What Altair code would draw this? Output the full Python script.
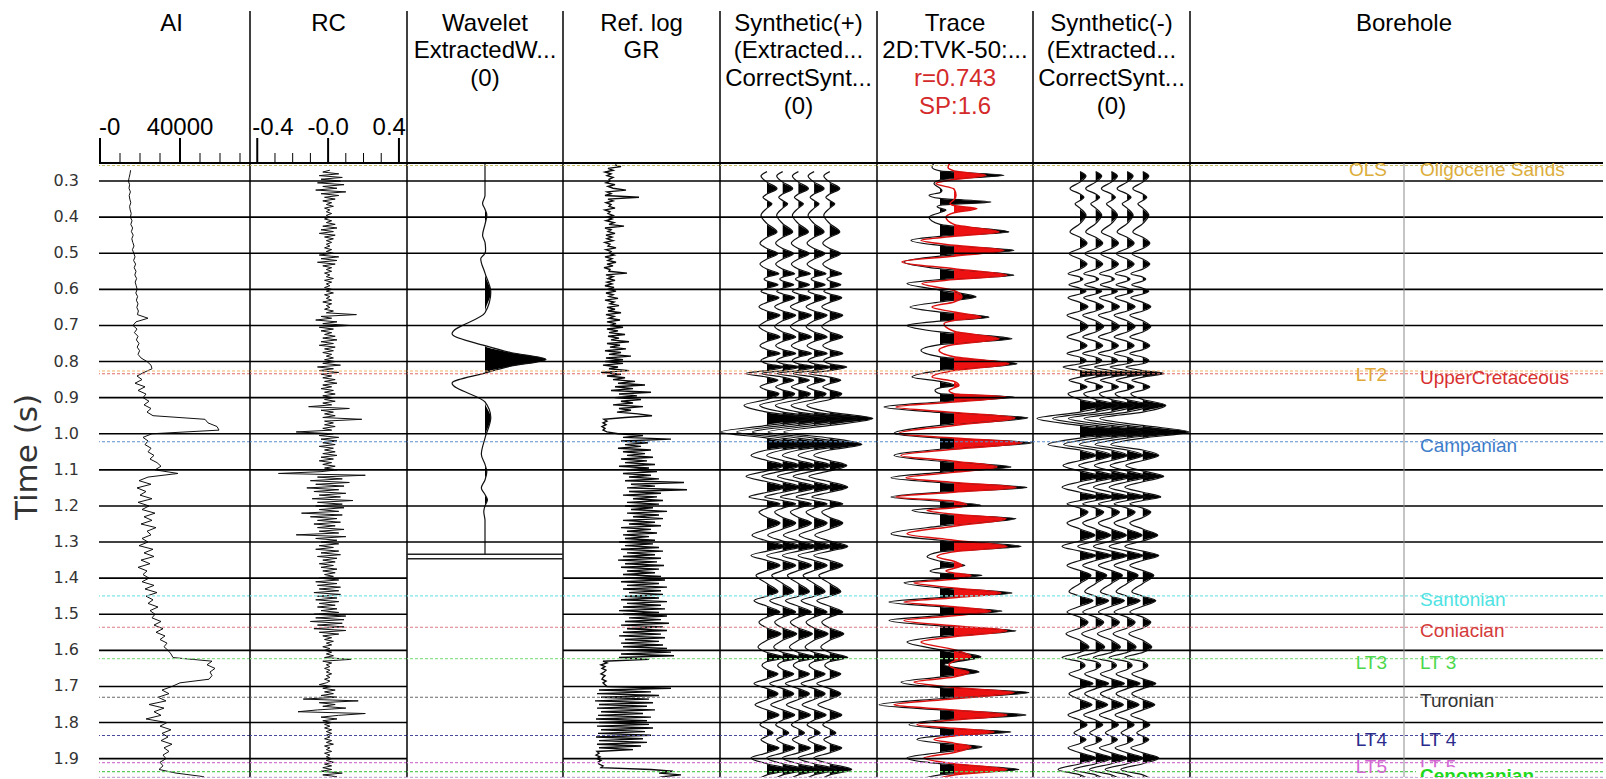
import altair as alt
import pandas as pd

# ------------------------------------------------------------------
# Display window / layout
# ------------------------------------------------------------------
T_TOP = 0.25              # time at the top of the tracks (s)
PX_PER_S = 361.0          # vertical scale, px per second
PLOT_H = 614
T_BOT = T_TOP + PLOT_H / PX_PER_S
HEAD = 152                # header band above the tracks (px)
LINE_H = 27.8             # header line spacing
HFONT = "Liberation Sans"
AFONT = "DejaVu Sans"

W_AI, W_RC, W_WAV, W_REF, W_SYN, W_TRC, W_BH = 151, 157, 156, 157, 157, 156, 413

grid_times = [0.3, 0.4, 0.5, 0.6, 0.7, 0.8, 0.9, 1.0, 1.1, 1.2, 1.3,
              1.4, 1.5, 1.6, 1.7, 1.8, 1.9]

# ------------------------------------------------------------------
# Well logs (regularly sampled)
# ------------------------------------------------------------------
AI_START, AI_STEP = 0.27, 0.01
ai_k = [  # acoustic impedance, thousands
    15.3, 15.0, 14.6,
    14.2, 14.8, 14.5, 15.2, 14.6, 14.9, 15.4, 14.8, 15.1, 15.6,
    15.2, 16.0, 15.4, 16.3, 15.7, 16.6, 15.9, 16.4, 17.0, 16.2,
    16.9, 17.5, 16.8, 17.8, 17.1, 18.0, 17.4, 18.3, 17.6, 18.1,
    18.6, 17.9, 18.8, 18.2, 19.0, 18.4, 19.2, 18.7, 24.0, 18.0,
    16.5, 18.5, 17.2, 19.0, 18.2, 19.5, 18.6, 19.8, 19.0, 20.5,
    23.5, 25.5, 26.0, 22.0, 18.5, 21.0, 17.5, 22.5, 19.0, 23.0,
    21.5, 24.5, 22.0, 25.5, 23.5, 26.5, 52.5, 54.0, 58.5, 59.5,
    26.0, 21.5, 24.0, 22.5, 25.5, 24.0, 27.0, 25.0, 28.5, 30.5,
    27.5, 39.0, 24.0, 19.5, 25.5, 18.5, 23.0, 20.0, 26.0, 19.0,
    24.5, 21.0, 27.5, 22.0, 26.0, 20.5, 28.0, 23.5, 25.5, 21.0,
    24.0, 19.5, 26.5, 22.0, 27.0, 20.5, 25.0, 19.0, 23.5, 21.5,
    24.5, 21.0, 27.0, 22.5, 28.5, 23.0, 26.5, 24.0, 29.0, 25.0,
    27.5, 26.0, 30.5, 27.0, 31.5, 28.0, 32.5, 30.0, 33.5, 32.0,
    34.0, 35.5, 36.5, 56.0, 53.5, 57.5, 55.0, 56.0, 54.5, 40.0,
    36.0, 31.0, 34.5, 29.0, 33.0, 24.5, 32.0, 27.0, 30.5, 23.0,
    33.5, 30.0, 35.5, 31.0, 34.0, 30.5, 36.0, 32.0, 34.5, 31.5,
    33.0, 30.0, 31.5, 29.5, 38.0, 52.0,
]

RC_START, RC_STEP = 0.27, 0.005
rc_c = [  # reflection coefficient, hundredths
    1, -3, 6, -5, 8, -4,
    7, -6, 9, -3, 5, -7, 10, -4, 6, -2, 4, -3, 2, -1, 3, -2, 1, -1, 2, -1,
    1, -2, 2, -1, 4, -3, 5, -4, 3, -5, 4, -2, 3, -1, 2, -1, 1, -2, 2, -1,
    3, -5, 6, -4, 5, -6, 4, -3, 2, -1, 2, -2, 1, -1, 3, -2, 2, -1, 1, -2,
    2, -1, 3, -2, 1, -1, 2, -3, 2, -1, 1, -2, 3, -1, 16, -4, 2, -7, 5, -3,
    12, -5, 3, -4, 2, -2, 4, -3, 5, -4, 3, -5, 4, -2, 3, -3, 2, -1, 3, -2,
    4, -3, 7, -6, 3, -5, 6, -4, 2, -3, 4, -2, 5, -3, 2, -4, 3, -2, 4, -3,
    3, -2, 4, -3, 2, -11, 12, -4, 3, -2, 4, -3, 19, -2, 3, -2, 4, -3, 2, -18,
    3, -5, 6, -4, 5, -3, 4, -5, 3, -2, 4, -3, 5, -4, 3, -5, 2, -3, 4, -2,
    5, -4, -28, 21, -6, 8, -10, 12, -7, 9, -12, 6, -8, 10, -5, 7, -9, 14, -6, 8,
    -7, 9, -5, 6, -15, 8, -10, 5, -6, 7, -8, 4, -6, 9, -5, 6, -18, 10, -7, 5,
    -4, 6, -5, 3, -7, 6, -4, 7, -6, 5, -3, 4, -5, 3, -4, 5, -3, 4, -2, 3,
    -5, 6, -7, 5, -6, 7, -5, 6, -8, 7, -6, 5, -7, 6, -5, 4, -6, 5, -4, 6,
    -8, 10, -7, 9, -10, 8, -6, 9, -8, 10, -5, 6, -3, 2, -2, 3, -1, 2, -3, 1,
    -2, 2, -1, 3, -2, 13, -3, 2, -1, 1, -2, 1, -1, 2, -1, 1, -2, 1, -1, -5,
    2, -3, 4, -2, 3, -4, 5, -14, 17, -5, 4, -3, 10, -6, -17, 21, 6, -4, 5, -3,
    2, -2, 1, -2, 2, -1, 2, -1, 1, -2, 2, -1, 3, -2, 1, -1, 2, -2, 1, -1,
    2, -1, 3, -2, 2, -3, 2, -4, 8, -3, 5, -2,
]

GR_START, GR_STEP = 0.255, 0.005
gr_api = [  # gamma ray
    52, 58, 45, 50, 42, 48, 44, 50, 46,
    47, 43, 52, 45, 50, 63, 44, 48, 42, 76, 45, 50, 43, 48, 46, 52, 42, 47, 45, 50,
    44, 49, 43, 51, 46, 61, 42, 48, 45, 52, 43, 49, 44, 50, 42, 47, 45, 53, 43, 48,
    46, 51, 42, 49, 45, 53, 44, 50, 41, 47, 46, 64, 43, 50, 45, 52, 44, 49, 42, 51,
    45, 53, 43, 50, 46, 55, 42, 51, 47, 56, 44, 52, 45, 58, 43, 51, 46, 57, 44, 53,
    47, 60, 44, 55, 46, 62, 45, 56, 48, 66, 44, 57, 47, 63, 42, 58, 46, 68, 43, 60,
    42, 60, 40, 55, 46, 66, 38, 58, 44, 62, 50, 72, 55, 82, 52, 70, 48, 88, 56, 74,
    52, 78, 58, 70, 50, 80, 56, 68, 54, 75, 89, 62, 41, 44, 40, 43, 39, 42, 40, 44,
    55, 80, 60, 108, 58, 85, 62, 78, 55, 88, 60, 82, 64, 90, 58, 84, 62, 92, 56, 86,
    64, 94, 60, 88, 66, 96, 62, 121, 68, 92, 64, 124, 66, 98, 60, 94, 70, 100, 64, 96,
    62, 90, 68, 104, 64, 96, 70, 100, 60, 92, 66, 98, 58, 88, 64, 94, 60, 86, 62, 92,
    56, 90, 62, 96, 58, 100, 64, 92, 60, 98, 55, 94, 62, 101, 58, 96, 64, 92, 60, 98,
    62, 102, 58, 96, 64, 104, 60, 98, 66, 100, 62, 96, 58, 104, 64, 98, 60, 102, 56, 96,
    60, 104, 66, 98, 62, 106, 58, 100, 64, 104, 60, 98, 56, 102, 62, 96, 58, 100, 60, 104,
    64, 108, 58, 111, 56, 86, 40, 44, 38, 42, 39, 43, 41, 38, 42, 40, 39, 43, 40, 42,
    44, 108, 36, 88, 34, 96, 38, 86, 32, 90, 36, 84, 34, 92, 38, 80, 35, 88, 33, 84,
    36, 86, 34, 90, 38, 82, 35, 88, 33, 80, 36, 84, 34, 78, 36, 70, 34, 36, 33, 37,
    34, 38, 35, 36, 40, 38, 88, 110, 96, 118, 100, 92,
]

# ------------------------------------------------------------------
# Wiggle traces: (time, amplitude) at extrema and zero crossings
# ------------------------------------------------------------------
wavelet = [(0.25, 0), (0.34, 0), (0.362, -0.04), (0.378, 0), (0.394, 0.03), (0.42, 0),
           (0.45, -0.04), (0.47, 0), (0.49, 0.01), (0.50, 0), (0.515, -0.07), (0.555, 0),
           (0.608, 0.095), (0.665, 0), (0.723, -0.54), (0.756, 0), (0.775, 0.42),
           (0.794, 1.0), (0.813, 0.42), (0.832, 0), (0.86, -0.54), (0.912, 0),
           (0.955, 0.095), (1.012, 0), (1.057, -0.06), (1.085, 0), (1.105, 0.03),
           (1.128, 0), (1.15, -0.06), (1.168, 0), (1.183, 0.04), (1.2, 0),
           (1.216, -0.02), (1.24, 0), (1.333, 0)]

synthetic = [
    (0.274, 0), (0.286, -6), (0.303, 0), (0.321, 10), (0.336, 0), (0.345, -4), (0.354, 0),
    (0.363, 5), (0.375, 0), (0.395, -6), (0.418, 0), (0.441, 10), (0.456, 0), (0.472, -7),
    (0.487, 0), (0.501, 11), (0.516, 0), (0.53, -7), (0.544, 0), (0.557, 12), (0.566, 0),
    (0.571, -3), (0.577, 0), (0.587, 11), (0.597, 0), (0.605, -6), (0.613, 0), (0.623, 12),
    (0.636, 0), (0.648, -8), (0.66, 0), (0.672, 13), (0.687, 0), (0.703, -8), (0.718, 0),
    (0.732, 13), (0.744, 0), (0.756, -7), (0.767, 0), (0.778, 13), (0.788, 0), (0.797, -6),
    (0.806, 0), (0.815, 17), (0.825, 0), (0.833, -21), (0.843, 0), (0.852, 11), (0.861, 0),
    (0.87, -7), (0.879, 0), (0.889, 12), (0.905, 0), (0.921, -23), (0.94, 0), (0.958, 43),
    (0.977, 0), (0.995, -46), (1.012, 0), (1.03, 32), (1.045, 0), (1.06, -16), (1.074, 0),
    (1.088, 17), (1.103, 0), (1.118, -21), (1.133, 0), (1.148, 18), (1.162, 0), (1.175, -18),
    (1.185, 0), (1.194, 13), (1.206, 0), (1.217, -8), (1.232, 0), (1.247, 13), (1.264, 0),
    (1.281, -15), (1.297, 0), (1.312, 18), (1.325, 0), (1.337, -16), (1.351, 0), (1.365, 13),
    (1.379, 0), (1.392, -11), (1.415, 0), (1.438, 11), (1.45, 0), (1.462, -13), (1.478, 0),
    (1.494, 13), (1.508, 0), (1.522, -8), (1.538, 0), (1.554, 14), (1.572, 0), (1.591, -9),
    (1.606, 0), (1.62, 18), (1.631, 0), (1.642, -5), (1.653, 0), (1.665, 11), (1.679, 0),
    (1.692, -13), (1.706, 0), (1.72, 11), (1.736, 0), (1.751, -12), (1.765, 0), (1.779, 12),
    (1.793, 0), (1.806, -7), (1.818, 0), (1.829, 6), (1.838, 0), (1.847, -6), (1.858, 0),
    (1.87, 12), (1.884, 0), (1.898, -16), (1.914, 0), (1.93, 22), (1.945, 0), (1.96, -10),
]

seismic = [
    (0.25, -6), (0.262, -8), (0.272, 0), (0.284, 64), (0.297, 0), (0.307, -6), (0.32, 0),
    (0.326, 2), (0.332, 0), (0.339, -11), (0.348, 0), (0.358, 51), (0.367, 0), (0.371, -3),
    (0.375, 0), (0.38, 6), (0.387, 0), (0.40, -11), (0.42, 0), (0.441, 69), (0.453, 0),
    (0.464, -29), (0.478, 0), (0.492, 74), (0.508, 0), (0.524, -36), (0.543, 0), (0.561, 74),
    (0.573, 0), (0.584, -33), (0.602, 0), (0.621, 36), (0.635, 0), (0.649, -30), (0.663, 0),
    (0.677, 49), (0.688, 0), (0.70, -33), (0.718, 0), (0.737, 72), (0.753, 0), (0.769, -19),
    (0.787, 0), (0.806, 77), (0.825, 0), (0.843, -28), (0.855, 0), (0.866, 15), (0.873, 0),
    (0.88, -5), (0.889, 0), (0.898, 74), (0.912, 0), (0.926, -56), (0.941, 0), (0.956, 88),
    (0.977, 0), (0.999, -46), (1.012, 0), (1.025, 92), (1.043, 0), (1.06, -46), (1.076, 0),
    (1.092, 71), (1.107, 0), (1.122, -49), (1.135, 0), (1.149, 87), (1.162, 0), (1.175, -49),
    (1.187, 0), (1.198, 41), (1.205, 0), (1.212, -28), (1.223, 0), (1.235, 76), (1.256, 0),
    (1.277, -49), (1.295, 0), (1.312, 81), (1.327, 0), (1.341, -13), (1.353, 0), (1.365, 25),
    (1.373, 0), (1.38, -10), (1.386, 0), (1.392, 42), (1.403, 0), (1.413, -36), (1.427, 0),
    (1.441, 72), (1.454, 0), (1.466, -51), (1.479, 0), (1.491, 62), (1.504, 0), (1.517, -51),
    (1.532, 0), (1.546, 76), (1.562, 0), (1.577, -33), (1.598, 0), (1.618, 41), (1.64, 4),
    (1.66, 39), (1.674, 0), (1.688, -39), (1.703, 0), (1.717, 89), (1.734, 0), (1.751, -61),
    (1.765, 0), (1.779, 86), (1.793, 0), (1.806, -31), (1.816, 0), (1.826, 71), (1.837, 0),
    (1.847, -23), (1.857, 0), (1.867, 42), (1.883, 0), (1.898, -33), (1.914, 0), (1.93, 79),
    (1.945, 0), (1.96, -20),
]

synthetic_overlay = [
    (0.25, -4), (0.262, -6), (0.272, 0), (0.284, 32), (0.296, 0), (0.307, -18), (0.322, 0),
    (0.34, 2), (0.352, 0), (0.362, -4), (0.368, 0), (0.376, 23), (0.388, 0), (0.40, -8),
    (0.42, 0), (0.441, 45), (0.453, 0), (0.464, -33), (0.478, 0), (0.492, 50), (0.508, 0),
    (0.524, -52), (0.543, 0), (0.561, 53), (0.573, 0), (0.584, -32), (0.603, 0), (0.621, 8),
    (0.635, 0), (0.649, -22), (0.663, 0), (0.677, 27), (0.686, 0), (0.695, -10), (0.716, 0),
    (0.737, 45), (0.753, 0), (0.769, -15), (0.787, 0), (0.806, 55), (0.825, 0), (0.843, -22),
    (0.855, 0), (0.866, 5), (0.873, 0), (0.88, -5), (0.889, 0), (0.898, 52), (0.912, 0),
    (0.926, -58), (0.941, 0), (0.956, 61), (0.977, 0), (0.999, -55), (1.012, 0), (1.025, 68),
    (1.043, 0), (1.06, -53), (1.076, 0), (1.092, 43), (1.107, 0), (1.122, -48), (1.135, 0),
    (1.149, 62), (1.162, 0), (1.175, -58), (1.187, 0), (1.198, 13), (1.205, 0), (1.212, -27),
    (1.223, 0), (1.235, 52), (1.256, 0), (1.277, -47), (1.295, 0), (1.312, 53), (1.327, 0),
    (1.341, -17), (1.353, 0), (1.365, 8), (1.373, 0), (1.38, -8), (1.386, 0), (1.392, 17),
    (1.403, 0), (1.413, -40), (1.427, 0), (1.441, 47), (1.454, 0), (1.466, -50), (1.479, 0),
    (1.491, 37), (1.504, 0), (1.517, -50), (1.532, 0), (1.546, 53), (1.562, 0), (1.577, -33),
    (1.598, 0), (1.618, 17), (1.63, 0), (1.64, -5), (1.65, 0), (1.66, 15), (1.674, 0),
    (1.688, -40), (1.703, 0), (1.717, 60), (1.734, 0), (1.751, -60), (1.765, 0), (1.779, 53),
    (1.793, 0), (1.806, -37), (1.816, 0), (1.826, 40), (1.837, 0), (1.847, -20), (1.857, 0),
    (1.867, 17), (1.883, 0), (1.898, -30), (1.914, 0), (1.93, 53), (1.945, 0), (1.96, -20),
]

# ------------------------------------------------------------------
# Horizons / well tops
# ------------------------------------------------------------------
hz_times = [0.257, 0.826, 0.834, 1.022, 1.449, 1.536, 1.623, 1.730, 1.836, 1.911, 1.936, 1.952]
hz_colors = ["#c9bf6a", "#f2b36a", "#e06a6a", "#5b8fd0", "#7fe6e6", "#dc7c86",
             "#8fe08f", "#6a6a6a", "#4a4a9c", "#d27ad2", "#5ccc5c", "#c9a8d8"]

surf_names = ["OLS", "LT2", "LT3", "LT4", "LT5"]
surf_times = [0.257, 0.826, 1.623, 1.836, 1.911]
surf_colors = ["#dcae3c", "#e0a838", "#4cd84c", "#2b2b8c", "#d366d3"]

top_names = ["Oligocene Sands", "UpperCretaceous", "Campanian", "Santonian", "Coniacian",
             "LT 3", "Turonian", "LT 4", "LT 5"]
top_times = [0.257, 0.834, 1.022, 1.449, 1.536, 1.623, 1.730, 1.836, 1.911]
top_colors = ["#dcae3c", "#d83030", "#3d7cc9", "#4fe3e3", "#d43a3a", "#4cd84c",
              "#333333", "#2b2b8c", "#d366d3"]
bold_top = ("Cenomanian", 1.936, "#1ed81e")

# ------------------------------------------------------------------
# Helpers
# ------------------------------------------------------------------
YSCALE = alt.Scale(domain=[T_TOP, T_BOT], reverse=True, nice=False, zero=False)


def yenc():
    return alt.Y("t:Q", scale=YSCALE, axis=None)


def sampled(start, step, values, factor=1.0):
    return pd.DataFrame({"t": [round(start + step * i, 4) for i in range(len(values))],
                         "v": [v * factor for v in values]})


def wiggle_df(pairs, offsets, sign=1.0):
    rows = []
    for k, off in enumerate(offsets):
        for t, a in pairs:
            a = sign * a
            rows.append({"k": k, "t": t, "base": off, "pos": off + a,
                         "fill": off + max(a, 0.0)})
    return pd.DataFrame(rows)


def wiggle(df, xs, line_color, fill_color, width=1.2):
    fill = alt.Chart(df).mark_area(orient="horizontal", interpolate="monotone",
                                   color=fill_color, clip=True).encode(
        y=yenc(), x=alt.X("fill:Q", scale=xs, axis=None), x2="base:Q", detail="k:N")
    line = alt.Chart(df).mark_area(orient="horizontal", interpolate="monotone",
                                   fillOpacity=0, stroke=line_color,
                                   strokeWidth=width, clip=True).encode(
        y=yenc(), x=alt.X("pos:Q", scale=xs, axis=None), x2="pos:Q", detail="k:N")
    return [fill, line]


one = pd.DataFrame({"o": [0]})
grid_df = pd.DataFrame({"t": grid_times})
hz_df = pd.DataFrame({"t": hz_times, "c": hz_colors})


def frame(width, grid=grid_df, separator=True):
    out = [
        alt.Chart(grid).mark_rule(color="black", strokeWidth=1.6).encode(y=yenc()),
        alt.Chart(hz_df).mark_rule(strokeDash=[3, 2], strokeWidth=1.1).encode(
            y=yenc(), color=alt.Color("c:N", scale=None)),
        alt.Chart(one).mark_rule(color="black", strokeWidth=2.2).encode(
            x=alt.value(0), x2=alt.value(width), y=alt.value(0)),
    ]
    if separator:
        out.append(alt.Chart(one).mark_rule(color="black", strokeWidth=1.5).encode(
            x=alt.value(width), y=alt.value(-HEAD), y2=alt.value(PLOT_H)))
    return out


def header(lines, cx, color="black", first_line=0):
    return alt.Chart(pd.DataFrame({"h": ["\n".join(lines)]})).mark_text(
        font=HFONT, fontSize=24, lineBreak="\n", lineHeight=LINE_H,
        baseline="top", align="center", color=color).encode(
        text="h:N", x=alt.value(cx), y=alt.value(-HEAD + 0.5 + LINE_H * first_line))


def scale_bar(xs, major, minor, labels):
    out = [
        alt.Chart(pd.DataFrame({"v": major})).mark_rule(color="black", strokeWidth=2).encode(
            x=alt.X("v:Q", scale=xs, axis=None), y=alt.value(-25), y2=alt.value(0)),
        alt.Chart(pd.DataFrame({"v": minor})).mark_rule(color="black", strokeWidth=1).encode(
            x=alt.X("v:Q", scale=xs, axis=None), y=alt.value(-10), y2=alt.value(0)),
    ]
    for text, v, align, dx in labels:
        out.append(alt.Chart(pd.DataFrame({"v": [v], "s": [text]})).mark_text(
            font=HFONT, fontSize=24, align=align, dx=dx, baseline="middle").encode(
            x=alt.X("v:Q", scale=xs, axis=None), y=alt.value(-35), text="s:N"))
    return out


def panel(layers, width):
    return alt.layer(*layers).properties(width=width, height=PLOT_H)


# ------------------------------------------------------------------
# Tracks
# ------------------------------------------------------------------
# time labels and title on the left of the first track
time_labels = alt.Chart(grid_df).mark_text(
    font=AFONT, fontSize=16, color="#333333", align="right", baseline="middle").encode(
    y=yenc(), x=alt.value(-20), text=alt.Text("t:Q", format=".1f"))
time_title = alt.Chart(pd.DataFrame({"s": ["Time (s)"]})).mark_text(
    font=AFONT, fontSize=31, color="#333333", angle=270, align="center",
    baseline="middle").encode(text="s:N", x=alt.value(-71), y=alt.value(294))

# AI
xs_ai = alt.Scale(domain=[-500, 75000], nice=False, zero=False)
ai_line = alt.Chart(sampled(AI_START, AI_STEP, ai_k, 1000)).mark_line(
    color="#111111", strokeWidth=1, orient="horizontal", clip=True).encode(
    x=alt.X("v:Q", scale=xs_ai, axis=None), y=yenc(), order="t:Q")
p_ai = panel([ai_line] + frame(W_AI)
             + scale_bar(xs_ai, [0, 40000], [10000, 20000, 30000, 50000, 60000, 70000],
                         [("-0", 0, "left", -1), ("40000", 40000, "center", 0)])
             + [header(["AI"], 72.5), time_labels, time_title], W_AI)

# RC
xs_rc = alt.Scale(domain=[-0.441, 0.4455], nice=False, zero=False)
rc_line = alt.Chart(sampled(RC_START, RC_STEP, rc_c, 0.01)).mark_line(
    color="#111111", strokeWidth=1, orient="horizontal", clip=True).encode(
    x=alt.X("v:Q", scale=xs_rc, axis=None), y=yenc(), order="t:Q")
p_rc = panel([rc_line] + frame(W_RC)
             + scale_bar(xs_rc, [-0.4, 0.0, 0.4], [-0.3, -0.2, -0.1, 0.1, 0.2, 0.3],
                         [("-0.4", -0.4, "left", -5), ("-0.0", 0.0, "center", 0),
                          ("0.4", 0.4, "right", 7)])
             + [header(["RC"], 78.5)], W_RC)

# Wavelet
xs_wav = alt.Scale(domain=[-1.279, 1.279], nice=False, zero=False)
wav_grid = pd.DataFrame({"t": [g for g in grid_times if g < 1.333]})
wav_box = alt.Chart(pd.DataFrame({"t": [1.334, 1.3465]})).mark_rule(
    color="#222222", strokeWidth=1.5).encode(y=yenc())
p_wav = panel(wiggle(wiggle_df(wavelet, [0.0]), xs_wav, "#111111", "black")
              + frame(W_WAV, grid=wav_grid) + [wav_box]
              + [header(["Wavelet", "ExtractedW...", "(0)"], W_WAV / 2)], W_WAV)

# Reference log (GR)
xs_gr = alt.Scale(domain=[0, 157], nice=False, zero=False)
gr_line = alt.Chart(sampled(GR_START, GR_STEP, gr_api)).mark_line(
    color="#0a0a0a", strokeWidth=1.4, orient="horizontal", clip=True).encode(
    x=alt.X("v:Q", scale=xs_gr, axis=None), y=yenc(), order="t:Q")
p_ref = panel([gr_line] + frame(W_REF) + [header(["Ref. log", "GR"], W_REF / 2)], W_REF)

# Synthetic (+) and (-): five repeated traces
SPACING = 15.7
offsets = [SPACING * k for k in range(5)]
xs_syn = alt.Scale(domain=[-47, 110], nice=False, zero=False)
p_syn = panel(wiggle(wiggle_df(synthetic, offsets), xs_syn, "#111111", "black")
              + frame(W_SYN)
              + [header(["Synthetic(+)", "(Extracted...", "CorrectSynt...", "(0)"], W_SYN / 2)],
              W_SYN)
p_synm = panel(wiggle(wiggle_df(synthetic, offsets, sign=-1.0), xs_syn, "#111111", "black")
               + frame(W_SYN)
               + [header(["Synthetic(-)", "(Extracted...", "CorrectSynt...", "(0)"], W_SYN / 2)],
               W_SYN)

# Seismic trace with synthetic overlay
xs_trc = alt.Scale(domain=[-63, 93], nice=False, zero=False)
RED = "#ee1111"
p_trc = panel(wiggle(wiggle_df(seismic, [0.0]), xs_trc, "#111111", "black")
              + wiggle(wiggle_df(synthetic_overlay, [14.0]), xs_trc, "#dd1010", RED, width=1.5)
              + frame(W_TRC)
              + [header(["Trace", "2D:TVK-50:..."], W_TRC / 2),
                 header(["r=0.743", "SP:1.6"], W_TRC / 2, color="#d42a2a", first_line=2)],
              W_TRC)

# Borehole: well tops
bh_line = alt.Chart(one).mark_rule(color="#8a8a8a", strokeWidth=1).encode(
    x=alt.value(214), y=alt.value(0), y2=alt.value(PLOT_H))
surf_lab = alt.Chart(pd.DataFrame({"t": surf_times, "s": surf_names, "c": surf_colors})).mark_text(
    font=HFONT, fontSize=19, align="right", baseline="middle", dy=4, clip=True).encode(
    y=yenc(), x=alt.value(197), text="s:N", color=alt.Color("c:N", scale=None))
top_lab = alt.Chart(pd.DataFrame({"t": top_times, "s": top_names, "c": top_colors})).mark_text(
    font=HFONT, fontSize=19, align="left", baseline="middle", dy=4, clip=True).encode(
    y=yenc(), x=alt.value(230), text="s:N", color=alt.Color("c:N", scale=None))
# label box of the deepest top masks the one just above it
bold_box = alt.Chart(pd.DataFrame({"t": [bold_top[1]]})).mark_rule(
    color="white", strokeWidth=17, yOffset=4, clip=True).encode(
    y=yenc(), x=alt.value(226), x2=alt.value(345))
bold_lab = alt.Chart(pd.DataFrame({"t": [bold_top[1]], "s": [bold_top[0]]})).mark_text(
    font=HFONT, fontSize=19, fontWeight="bold", align="left", baseline="middle", dy=4,
    color=bold_top[2], clip=True).encode(y=yenc(), x=alt.value(230), text="s:N")
p_bh = panel(frame(W_BH, separator=False) + [bh_line, surf_lab, top_lab, bold_box, bold_lab,
                                             header(["Borehole"], 214)], W_BH)

chart = alt.hconcat(p_ai, p_rc, p_wav, p_ref, p_syn, p_trc, p_synm, p_bh,
                    spacing=0, bounds="flush").resolve_scale(
    x="independent", y="independent").properties(
    padding={"left": 12, "top": 10, "right": 0, "bottom": 0},
    background="white").configure_view(stroke=None)

chart.save("out.html", embed_options={"renderer": "svg", "actions": False})
